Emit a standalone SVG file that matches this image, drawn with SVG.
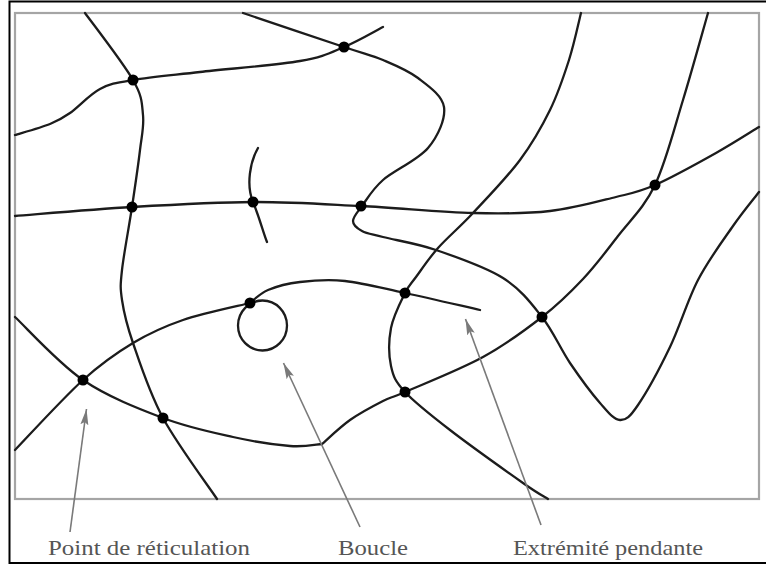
<svg xmlns="http://www.w3.org/2000/svg" width="766" height="565" viewBox="0 0 766 565">
<style>
.c{fill:none;stroke:#1c1c1c;stroke-width:2.3;stroke-linecap:round;stroke-linejoin:round}
.n{fill:#000}
.a{fill:none;stroke:#7a7a7a;stroke-width:1.6}
.t{font-family:"Liberation Serif","Times New Roman",serif;font-size:21px;fill:#555}
</style>
<defs>
<marker id="ah" markerUnits="userSpaceOnUse" markerWidth="17" markerHeight="9" refX="16" refY="4.5" orient="auto">
<path d="M0,0.5 L16,4.5 L0,8.5 L3,4.5 z" fill="#7a7a7a"/>
</marker>
</defs>
<rect x="0" y="0" width="766" height="565" fill="#fff"/>
<rect x="9.5" y="1.5" width="770" height="561.5" fill="none" stroke="#000" stroke-width="2"/>
<rect x="15" y="13" width="744" height="486" fill="none" stroke="#a5a5a5" stroke-width="2.2"/>
<g id="connectors">
<path class="c" d="M85,13 C93,24 123.3,63 133,80 S141.8,103.3 143,115 S141.8,134.7 140,150 S135,187 132,207 S123.7,254.5 122,270 S120.2,287.8 122,300 S126.2,323.3 133,343 S149,392 163,418 S208,485.5 217,499"/>
<path class="c" d="M15,135 C20.8,133.2 40.8,127.7 50,124 S61.7,118.8 70,113 S89.5,94.5 100,89 S116.3,82.8 133,80 S172.2,75.2 200,72 S276,65.2 300,61 S330.2,52.7 344,47 S376.5,30.3 383,27"/>
<path class="c" d="M243,13 C259.8,18.7 320.7,39.2 344,47 S370.7,54.8 383,60 S407.8,70.2 418,78 S442.3,95.3 444,107 S438.2,135.8 428,148 S394,170.3 383,180 S367,199.2 362,206 S353,216.8 353,221 S357,228.3 362,231 S370.7,233.8 383,237 S416,243.2 436,250 S485.3,266.8 503,278 S530.8,302.8 542,317 S560.3,348.7 570,363 S591.7,393.5 600,403 S613.7,419.7 620,420 S629.7,417.2 638,405 S660,367.8 670,347 S687.5,300.2 698,280 S722.8,240.7 733,226 S754.7,197.7 759,192"/>
<path class="c" d="M15,216 C34.5,214.5 92.3,209.3 132,207 S214.8,202.2 253,202 S324.3,204.2 361,206 S441.5,212.2 473,213 S526.2,213.7 550,211 S598.5,201.3 616,197 S638.3,192.3 655,185 S698.7,162.7 716,153 S751.8,131.3 759,127"/>
<path class="c" d="M258,148 C250,162 246,185 253,202 S263,232 267,242"/>
<path class="c" d="M15,317 C26.3,327.5 58.3,363.2 83,380 S138,408.5 163,418 S211.8,432.3 233,437 S275.2,444.8 290,446 S316.7,444.3 322,444 C326.7,440 339.8,427.2 350,420 S373.8,405.7 383,401 S388.3,399.3 405,392 S460.2,369.5 483,357 S525.3,330 542,317 S570.3,292.5 583,279 S606,251.7 618,236 S644.2,207.7 655,185 S674.2,128.7 683,100 S703.8,27.5 708,13"/>
<path class="c" d="M581,13 C579,20.8 574.2,43.8 569,60 S558.2,93.3 550,110 S532.8,142.8 520,160 S486.7,198.3 473,213 S447.5,237.3 438,248 S421.5,269.5 416,277 S409.2,284.5 405,293 S393.3,315.8 391,328 S388.7,355.3 391,366 S395.2,381.3 405,392 S430.3,414.8 450,430 S506.7,471.5 523,483 S543.8,496.3 548,499"/>
<path class="c" d="M15,450 C26.3,438.3 63.3,397.8 83,380 S116.3,353 133,343 S163.5,326.7 183,320 S238.8,305.8 250,303"/>
<ellipse class="c" cx="262.5" cy="325.5" rx="24.5" ry="25"/>
<path class="c" d="M250,303 C253,300.8 259.7,293.5 268,290 S287.2,283.5 300,282 S327.5,279.2 345,281 S382.5,288.2 405,293 S467.5,307.2 480,310"/>
<path class="a" d="M70,532 L86.5,409" marker-end="url(#ah)"/>
<path class="a" d="M360,527 L283.5,363" marker-end="url(#ah)"/>
<path class="a" d="M541,525 L465.5,319" marker-end="url(#ah)"/>
</g>
<g id="node-1"><circle class="n" cx="133" cy="80" r="5.5"/></g>
<g id="node-2"><circle class="n" cx="344" cy="47" r="5.5"/></g>
<g id="node-3"><circle class="n" cx="132" cy="207" r="5.5"/></g>
<g id="node-4"><circle class="n" cx="253" cy="202" r="5.5"/></g>
<g id="node-5"><circle class="n" cx="361" cy="206" r="5.5"/></g>
<g id="node-6"><circle class="n" cx="655" cy="185" r="5.5"/></g>
<g id="node-7"><circle class="n" cx="250" cy="303" r="5.5"/></g>
<g id="node-8"><circle class="n" cx="405" cy="293" r="5.5"/></g>
<g id="node-9"><circle class="n" cx="542" cy="317" r="5.5"/></g>
<g id="node-10"><circle class="n" cx="83" cy="380" r="5.5"/></g>
<g id="node-11"><circle class="n" cx="163" cy="418" r="5.5"/></g>
<g id="node-12"><circle class="n" cx="405" cy="392" r="5.5"/></g>
<g id="labels">
<text class="t" x="48" y="555" textLength="202" lengthAdjust="spacingAndGlyphs">Point de réticulation</text>
<text class="t" x="338" y="555" textLength="70" lengthAdjust="spacingAndGlyphs">Boucle</text>
<text class="t" x="513" y="555" textLength="190" lengthAdjust="spacingAndGlyphs">Extrémité pendante</text>
</g>
</svg>
